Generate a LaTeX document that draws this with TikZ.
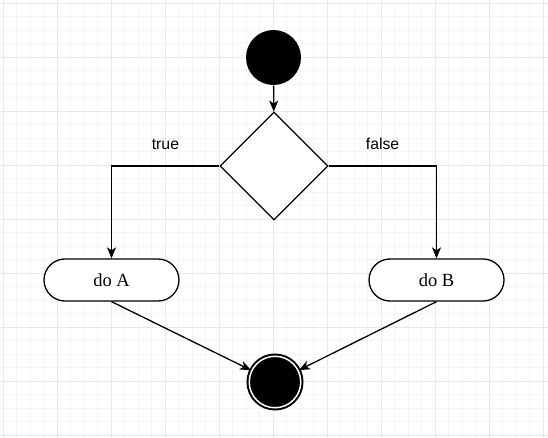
\documentclass[tikz,border=0pt]{standalone}
\usepackage{fontspec}
\newfontfamily\labelfont{Liberation Sans}
\newfontfamily\actionfont{Liberation Serif}
\usetikzlibrary{shapes.geometric,arrows.meta}

\begin{document}
\begin{tikzpicture}[x=1pt,y=-1pt,line width=1.3pt,every node/.style = {align=center, inner sep=0pt}]
		\tikzset{
			arr/.style = { -{Stealth[length=11pt,width=9pt,inset=3pt]} },
			action/.style = { draw, rectangle, rounded corners=21pt, minimum width=135pt, minimum height=42pt, font=\actionfont\fontsize{18.5}{22}\selectfont },
			guard/.style = { font=\labelfont\fontsize{15.8}{18}\selectfont },
		}
		\useasboundingbox (0,0) rectangle (548,438);
		% background grid
		\begin{scope}[shift={(3,3)}]
			\draw[line width=0.75pt, gray!8, step=13.5pt] (-3,-3) grid (545,435);
			\draw[line width=0.75pt, gray!18, step=54pt] (-3,-3) grid (545,435);
		\end{scope}
		\node[circle, fill=black, minimum size=55pt] (start) at (273.5,57.5) {};
		\node[diamond, draw, fill=white, minimum width=108pt, minimum height=108pt] (choice) at (274,166) {};
		\node[action, fill=white] (doA) at (111.5,280) {do A};
		\node[action, fill=white] (doB) at (436.5,280) {do B};
		\node[circle, draw=black, line width=2pt, double=white, double distance=1.5pt, fill=black, minimum size=51.5pt] (stop) at (275,382) {};
		\draw[arr] (start) -- (choice);
		\draw[arr] (choice.west) -| node[guard, pos=0.25, above=16pt] {true} (doA.north);
		\draw[arr] (choice.east) -| node[guard, pos=0.25, above=16pt] {false} (doB.north);
		\draw[arr] (doA.south) -- (stop);
		\draw[arr] (doB.south) -- (stop);
\end{tikzpicture}
\end{document}
